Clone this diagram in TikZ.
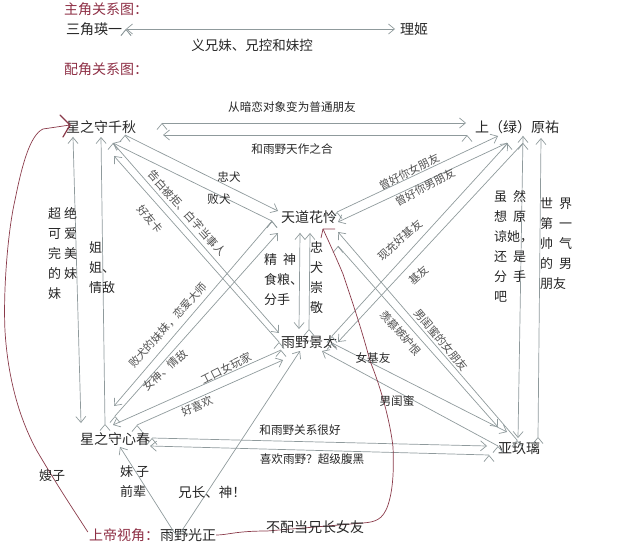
\documentclass[tikz,border=0pt]{standalone}
\usepackage{fontspec}
\setmainfont{Noto Sans CJK SC}
\usetikzlibrary{arrows.meta}
\definecolor{linkgray}{HTML}{8F9A9C}
\definecolor{titlered}{HTML}{8E2F45}
\definecolor{inkred}{HTML}{8A3A4A}
\definecolor{inktext}{HTML}{262626}
\tikzset{
  person/.style={font=\fontsize{14}{16}\selectfont,text=inktext,inner sep=0pt},
  title/.style={font=\fontsize{14}{16}\selectfont,text=titlered,inner sep=0pt},
  lab/.style={font=\fontsize{11.6}{20}\selectfont,text=inktext,inner sep=0pt},
  tilt/.style={font=\fontsize{11}{13}\selectfont,text=inktext!80,inner sep=0pt},
  col/.style={font=\fontsize{13}{20}\selectfont,text=inktext,inner sep=0pt,align=left,anchor=north west},
  link/.style={draw=linkgray,line width=0.7pt,-{Straight Barb[length=6pt,width=10pt]}},
  twoway/.style={link,{Straight Barb[length=6pt,width=10pt]}-{Straight Barb[length=6pt,width=10pt]}},
  scrawl/.style={draw=inkred,line width=0.7pt,line join=round},
  scrawlhead/.style={draw=inkred,line width=1.2pt,line cap=round}
}
\begin{document}
\begin{tikzpicture}[x=1pt,y=-1pt]
\useasboundingbox (0,0) rectangle (640,548);
% titles and names
\node[title] (t1) at (106,9) {主角关系图：};
\node[title] (t2) at (106,69) {配角关系图：};
\node[person] (mika) at (94,29) {三角瑛一};
\node[person] (rihi) at (414,29) {理姬};
\node[person] (chia) at (101,127) {星之守千秋};
\node[person] (uehr) at (517,127) {上（绿）原祐};
\node[person] (karn) at (309,217) {天道花怜};
\node[person] (keit) at (309,342) {雨野景太};
\node[person] (koha) at (115,439) {星之守心春};
\node[person] (aguri) at (519,448) {亚玖璃};
\node[title] (god) at (124,535) {上帝视角：};
\node[person] (mits) at (188,535) {雨野光正};
% end points
\coordinate (a1) at (162,123); \coordinate (a2) at (466,123);
\coordinate (a3) at (467,135); \coordinate (a4) at (163,135);
\coordinate (b1) at (125,135); \coordinate (b2) at (278,211);
\coordinate (b3) at (272,221); \coordinate (b4) at (113,143);
\coordinate (c1) at (279,333); \coordinate (c2) at (279,342);
\coordinate (c3) at (114,156);
\coordinate (d1) at (114,406); \coordinate (d2) at (278,233);
\coordinate (d3) at (115,416);
\coordinate (e1) at (281,350); \coordinate (e2) at (113,425);
\coordinate (e3) at (137,425); \coordinate (e4) at (283,360);
\coordinate (f1) at (73,137); \coordinate (f2) at (81,423);
\coordinate (f3) at (105,424); \coordinate (f4) at (101,137);
\coordinate (g1) at (300,233); \coordinate (g2) at (299,329);
\coordinate (g3) at (309,329); \coordinate (g4) at (310,233);
\coordinate (h1) at (337,212); \coordinate (h2) at (498,136);
\coordinate (h3) at (507,143); \coordinate (h4) at (338,222);
\coordinate (i1) at (332,336); \coordinate (i2) at (508,143);
\coordinate (i3) at (523,143); \coordinate (i4) at (338,342);
\coordinate (j1) at (338,246); \coordinate (j2) at (498,427);
\coordinate (j3) at (517,440); \coordinate (j4) at (338,232);
\coordinate (k1) at (332,343); \coordinate (k2) at (507,432);
\coordinate (k3) at (498,446); \coordinate (k4) at (322,351);
\coordinate (l1) at (523,136); \coordinate (l2) at (518,438);
\coordinate (l3) at (538,437); \coordinate (l4) at (541,138);
\coordinate (m1) at (152,438); \coordinate (m2) at (487,446);
\coordinate (m3) at (489,455); \coordinate (m4) at (150,446);
\coordinate (n1) at (172,529); \coordinate (n2) at (120,447);
\coordinate (n3) at (183,529); \coordinate (n4) at (300,351);
\coordinate (top1) at (126,29); \coordinate (top2) at (395,29);
\coordinate (chiatip) at (70,125);
\coordinate (karntip) at (323,229);
% connectors
\path[twoway] (top1) edge (top2);
\path[link] (a1) edge (a2);
\path[link] (a3) edge (a4);
\path[link] (b1) edge (b2);
\path[link] (b3) edge (b4);
\path[link] (b4) edge (c1);
\path[link] (c2) edge (c3);
\path[link] (b3) edge (d1);
\path[link] (d3) edge (d2);
\path[link] (e1) edge (e2);
\path[link] (e3) edge (e4);
\path[link] (f1) edge (f2);
\path[link] (f3) edge (f4);
\path[link] (g1) edge (g2);
\path[link] (g3) edge (g4);
\path[link] (h1) edge (h2);
\path[link] (h3) edge (h4);
\path[link] (i1) edge (i2);
\path[link] (i3) edge (i4);
\path[link] (j1) edge (j2);
\path[link] (j3) edge (j4);
\path[link] (k1) edge (k2);
\path[link] (k3) edge (k4);
\path[link] (l1) edge (l2);
\path[link] (l3) edge (l4);
\path[link] (m1) edge (m2);
\path[link] (m3) edge (m4);
\path[link] (n1) edge (n2);
\path[link] (n3) edge (n4);
% handwritten red lines
\draw[scrawl] (god.west) ++(-1,-3) .. controls (75,512) and (60,490) .. (37,451)
  .. controls (20,420) and (8,380) .. (5,331)
  .. controls (3,290) and (8,230) .. (15,200)
  .. controls (22,165) and (30,135) .. (43,129) -- (chiatip);
\draw[scrawlhead] (60,115) -- (chiatip) -- (63,137);
\draw[scrawl] (mits.east) .. controls (228,535) and (235,531) .. (267,531)
  -- (363,523) .. controls (375,522) and (383,520) .. (388,505)
  .. controls (393,490) and (394,470) .. (393,447)
  .. controls (390,420) and (380,385) .. (370,361)
  .. controls (362,330) and (350,295) .. (343,274)
  .. controls (335,255) and (328,240) .. (karntip);
\draw[scrawl] (321,238) -- (karntip) -- (335,229);
% labels
\node[lab,font=\fontsize{13.5}{16}\selectfont] (lsib) at (252,45) {义兄妹、兄控和妹控};
\node[lab] (lup) at (292,107) {从暗恋对象变为普通朋友};
\node[lab] (ldn) at (292,149) {和雨野天作之合};
\node[lab] (ldog) at (229,177) {忠犬};
\node[lab] (llos) at (219,199) {败犬};
\node[tilt,rotate=-48] (lcon) at (187,213) {告白被拒、白字当事人};
\node[tilt,rotate=-50] (lfrd) at (150,219) {好友卡};
\node[tilt,rotate=48] (lsis) at (168,325) {败犬的妹妹，恋爱大师};
\node[tilt,rotate=42] (lgod) at (165,370) {女神、情敌};
\node[tilt,rotate=27] (lero) at (226,368) {工口女玩家};
\node[tilt,rotate=24] (llik) at (197,406) {好喜欢};
\node[tilt,rotate=27] (lgf) at (409,172) {曾好你女朋友};
\node[tilt,rotate=28] (lbf) at (425,187) {曾好你男朋友};
\node[tilt,rotate=42] (lnew) at (400,240) {现充好基友};
\node[tilt,rotate=42] (lbas) at (419,275) {基友};
\node[tilt,rotate=-50] (lgir) at (441,340) {男闺蜜的女朋友};
\node[tilt,rotate=-48] (lenv) at (401,333) {羡慕嫉妒恨};
\node[lab] (lfem) at (373,358) {女基友};
\node[lab] (lmal) at (397,401) {男闺蜜};
\node[lab] (lgoo) at (300,430) {和雨野关系很好};
\node[lab] (lwho) at (312,459) {喜欢雨野？超级腹黑};
\node[person,font=\fontsize{13}{16}\selectfont] (lsil) at (52,476) {嫂子};
\node[person,font=\fontsize{13.5}{16}\selectfont] (lbro) at (212,492) {兄长、神！};
\node[person] (lnot) at (315,527) {不配当兄长女友};
\node[col] (vcut) at (48,207) {超 绝\\可 爱\\完 美\\的 妹\\妹};
\node[col] (vsis) at (89,241) {姐\\姐、\\情敌};
\node[col] (vspi) at (264,253) {精 \ 神\\食粮、\\分手};
\node[col] (vloy) at (310,241) {忠\\犬\\崇\\敬};
\node[col] (vfor) at (494,190) {虽 \ 然\\想 \ 原\\谅她，\\还 \ 是\\分 \ 手\\吧};
\node[col] (vbes) at (540,197) {世 \ 界\\第 \ 一\\帅 \ 气\\的 \ 男\\朋友};
\node[col] (vjun) at (120,465) {妹 子\\前辈};
\end{tikzpicture}
\end{document}
